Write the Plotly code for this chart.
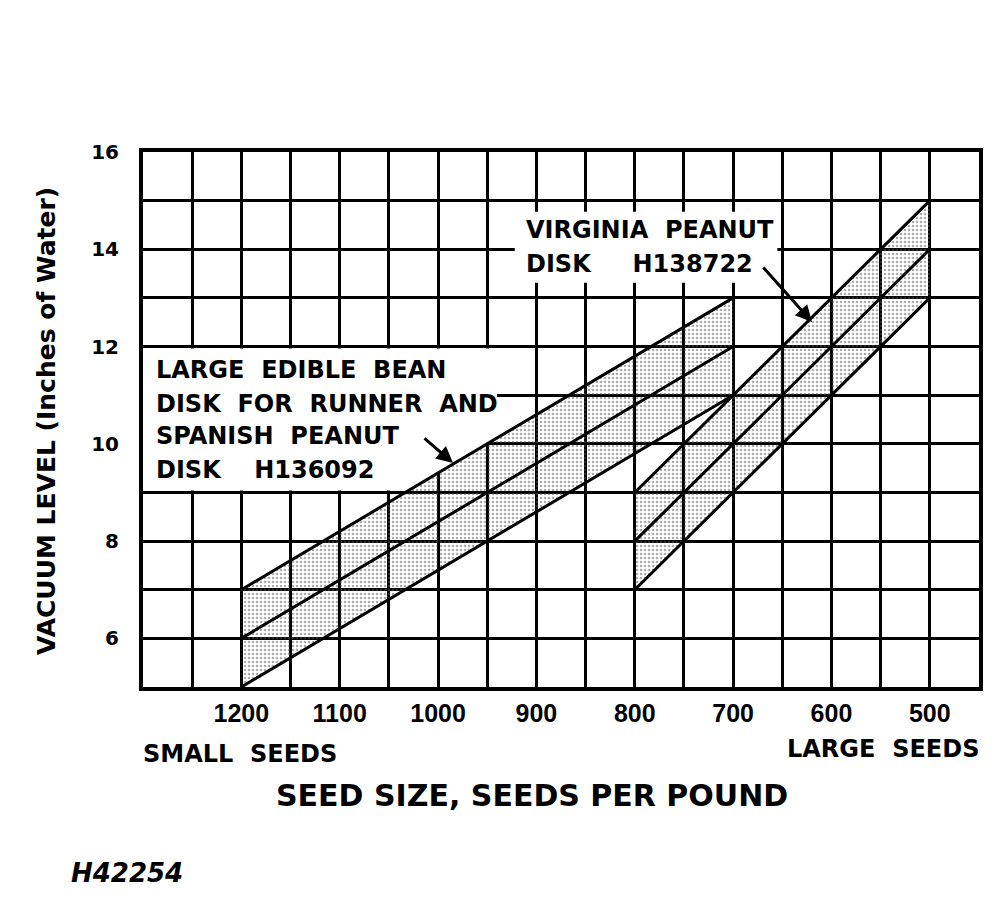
import numpy as np
import plotly.graph_objects as go

# ---- data ----
seed_ticks = [1200, 1100, 1000, 900, 800, 700, 600, 500]
seed_tick_text = ["1200", "1100", "1000", "900", "800", "700", "600", "500"]
vac_ticks = [6, 8, 10, 12, 14, 16]
vac_tick_text = ["6", "8", "10", "12", "14", "16"]

bean_seeds = [1200, 700]
bean_low = [5, 11]
bean_mid = [6, 12]
bean_high = [7, 13]

va_seeds = [800, 500]
va_low = [7, 13]
va_mid = [8, 14]
va_high = [9, 15]

bean_label = ["LARGE\u00a0 EDIBLE\u00a0 BEAN",
              "DISK\u00a0 FOR\u00a0 RUNNER\u00a0 AND",
              "SPANISH\u00a0 PEANUT",
              "DISK\u00a0\u00a0\u00a0 H136092"]
va_label = ["VIRGINIA\u00a0 PEANUT", "DISK\u00a0\u00a0\u00a0\u00a0 H138722"]

BLACK = "black"
LW = 3
BOLD = dict(family="DejaVu Sans", weight="bold", color=BLACK)

fig = go.Figure()

pattern = dict(shape=".", fgcolor="#555555", bgcolor="rgba(0,0,0,0)",
               size=4, solidity=0.3)


def region(xs, low, mid, high):
    fig.add_trace(go.Scatter(x=xs, y=low, mode="lines",
                             line=dict(color=BLACK, width=LW),
                             hoverinfo="skip", showlegend=False))
    fig.add_trace(go.Scatter(x=xs, y=high, mode="lines", fill="tonexty",
                             fillcolor="rgba(0,0,0,0.06)",
                             fillpattern=pattern,
                             line=dict(color=BLACK, width=LW),
                             hoverinfo="skip", showlegend=False))
    fig.add_trace(go.Scatter(x=xs, y=mid, mode="lines",
                             line=dict(color=BLACK, width=LW),
                             hoverinfo="skip", showlegend=False))


region(bean_seeds, bean_low, bean_mid, bean_high)
region(va_seeds, va_low, va_mid, va_high)

# ---- white backgrounds behind the labels (cover grid, below traces) ----
xr = 940.0
yr = float(np.interp(xr, bean_seeds[::-1], bean_high[::-1]))
x9 = float(np.interp(9.0, bean_high, bean_seeds))
bean_mask = (f"M 1305,11.96 L {xr},11.96 L {xr},{yr} "
             f"L {x9},9.04 L 1305,9.04 Z")
fig.add_shape(type="path", path=bean_mask, xref="x", yref="y",
              fillcolor="white", line=dict(width=0), layer="between")
fig.add_shape(type="rect", x0=922, x1=655, y0=13.31, y1=14.77,
              xref="x", yref="y", fillcolor="white", line=dict(width=0),
              layer="between")

# ---- annotations ----
W, H, L, T = 836, 535, 143, 152


def px(xp):
    return (xp - L) / W


def py(yp):
    return (T + H - yp) / H


ann = []
for txt, yc in zip(bean_label, [370, 403.5, 436.5, 470]):
    ann.append(dict(text=txt, x=px(154), y=py(yc), xref="paper", yref="paper",
                    xanchor="left", yanchor="middle", showarrow=False,
                    font=dict(size=24, **BOLD)))
for txt, yc in zip(va_label, [230, 263.5]):
    ann.append(dict(text=txt, x=px(524), y=py(yc), xref="paper", yref="paper",
                    xanchor="left", yanchor="middle", showarrow=False,
                    font=dict(size=24, **BOLD)))
# arrows
ann.append(dict(text="", x=px(453), y=py(463), xref="paper", yref="paper",
                ax=-30, ay=-26, showarrow=True, arrowhead=2, arrowsize=1.1,
                arrowwidth=3, arrowcolor=BLACK, standoff=0))
ann.append(dict(text="", x=px(812), y=py(322), xref="paper", yref="paper",
                ax=-50, ay=-56, showarrow=True, arrowhead=2, arrowsize=1.1,
                arrowwidth=3, arrowcolor=BLACK, standoff=0))
# axis titles and side notes
ann.append(dict(text="SEED SIZE, SEEDS PER POUND", x=px(532), y=py(795),
                xref="paper", yref="paper", xanchor="center", yanchor="middle",
                showarrow=False, font=dict(size=30, **BOLD)))
ann.append(dict(text="SMALL\u00a0 SEEDS", x=px(141), y=py(754),
                xref="paper", yref="paper", xanchor="left", yanchor="middle",
                showarrow=False, font=dict(size=24, **BOLD)))
ann.append(dict(text="LARGE\u00a0 SEEDS", x=px(981), y=py(749),
                xref="paper", yref="paper", xanchor="right", yanchor="middle",
                showarrow=False, font=dict(size=24, **BOLD)))
ann.append(dict(text="H42254", x=px(69), y=py(873),
                xref="paper", yref="paper", xanchor="left", yanchor="middle",
                showarrow=False,
                font=dict(size=26, family="DejaVu Sans", weight="bold",
                          style="italic", color=BLACK)))
ann.append(dict(text="VACUUM LEVEL (Inches of Water)", x=px(46), y=py(421),
                xref="paper", yref="paper", xanchor="center", yanchor="middle",
                textangle=-90, showarrow=False, font=dict(size=25, **BOLD)))

fig.update_layout(
    width=996, height=897,
    margin=dict(l=L, r=996 - L - W, t=T, b=897 - T - H),
    paper_bgcolor="white", plot_bgcolor="white",
    annotations=ann,
    showlegend=False,
)
fig.update_xaxes(
    range=[1300, 450], tickvals=seed_ticks, ticktext=seed_tick_text,
    showgrid=True, gridcolor=BLACK, gridwidth=LW,
    minor=dict(dtick=50, tick0=0, showgrid=True, gridcolor=BLACK, gridwidth=LW),
    showline=True, linecolor=BLACK, linewidth=4, mirror=True,
    ticks="", ticklabelstandoff=1,
    tickfont=dict(size=25, family="Liberation Sans", weight="bold", color=BLACK),
    zeroline=False,
)
fig.update_yaxes(
    range=[5, 16], tickvals=vac_ticks, ticktext=vac_tick_text,
    showgrid=True, gridcolor=BLACK, gridwidth=LW,
    minor=dict(dtick=1, tick0=0, showgrid=True, gridcolor=BLACK, gridwidth=LW),
    showline=True, linecolor=BLACK, linewidth=4, mirror=True,
    ticks="", ticklabelstandoff=16,
    tickfont=dict(size=20, family="DejaVu Sans", weight="bold", color=BLACK),
    zeroline=False,
)

fig.write_html("out.html", config={"displayModeBar": False},
               post_script="document.body.style.margin='0px';")
